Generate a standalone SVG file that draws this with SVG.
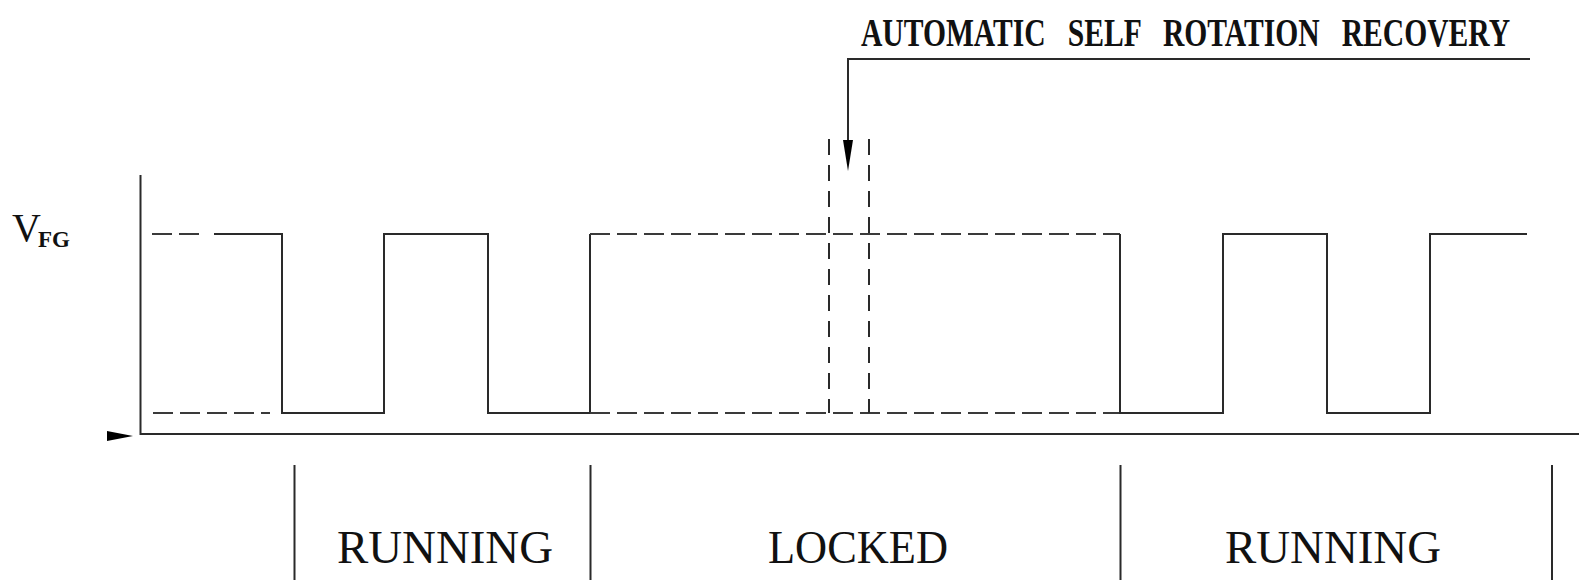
<svg xmlns="http://www.w3.org/2000/svg" width="1579" height="580" viewBox="0 0 1579 580">
  <style>
    .ln { fill: none; stroke: #2a2a2a; stroke-width: 2; }
    .dh { fill: none; stroke: #3a3a3a; stroke-width: 2; stroke-dasharray: 20 7; }
    .dv { fill: none; stroke: #2a2a2a; stroke-width: 2; stroke-dasharray: 16 10; }
    .lbl { font-family: "Liberation Serif", "DejaVu Serif", serif; font-size: 47px; fill: #111; text-anchor: middle; }
    .ttl { font-family: "Liberation Serif", "DejaVu Serif", serif; font-size: 29px; font-weight: bold; fill: #111; white-space: pre; }
  </style>
  <rect width="1579" height="580" fill="#fff"/>

  <g id="axes">
    <path class="ln" d="M140.5,175 V434 H1579"/>
    <polygon points="107,431 133,436 107,441" fill="#000"/>
  </g>

  <g id="ylabel">
    <text x="12" y="241" font-family="Liberation Serif, serif" font-size="40" fill="#111">V<tspan dx="-3" dy="6" font-size="23" font-weight="bold">FG</tspan></text>
  </g>

  <g id="waveform">
    <path class="dh" d="M152,234 H200"/>
    <path class="dh" d="M153,413 H270"/>
    <path class="ln" d="M214,234 H282 V413 H384 V234 H488 V413 H590 V234"/>
    <path class="dh" d="M590,234 H1120"/>
    <path class="dh" d="M590,413 H1120"/>
    <path class="ln" d="M1120,234 V413 H1223 V234 H1327 V413 H1430 V234 H1527"/>
    <path class="dv" d="M829,139 V413"/>
    <path class="dv" d="M869,139 V413"/>
  </g>

  <g id="connectors">
    <path class="ln" d="M1530,59 H848 V140" stroke="#111"/>
    <path d="M843,140 L853,140 L848,171 Z" fill="#000"/>
  </g>

  <g id="annotation">
    <text class="ttl" transform="translate(861,46) scale(1,1.35)" x="0" y="0" xml:space="preserve" textLength="649" lengthAdjust="spacingAndGlyphs">AUTOMATIC   SELF   ROTATION   RECOVERY</text>
  </g>

  <g id="regions">
    <path class="ln" d="M294.5,465 V580 M590.5,465 V580 M1120.5,465 V580 M1552,465 V580"/>
  </g>

  <g id="region-running-1">
    <text class="lbl" x="445" y="563" textLength="216" lengthAdjust="spacingAndGlyphs">RUNNING</text>
  </g>
  <g id="region-locked">
    <text class="lbl" x="858" y="563" textLength="180" lengthAdjust="spacingAndGlyphs">LOCKED</text>
  </g>
  <g id="region-running-2">
    <text class="lbl" x="1333" y="563" textLength="216" lengthAdjust="spacingAndGlyphs">RUNNING</text>
  </g>
</svg>
